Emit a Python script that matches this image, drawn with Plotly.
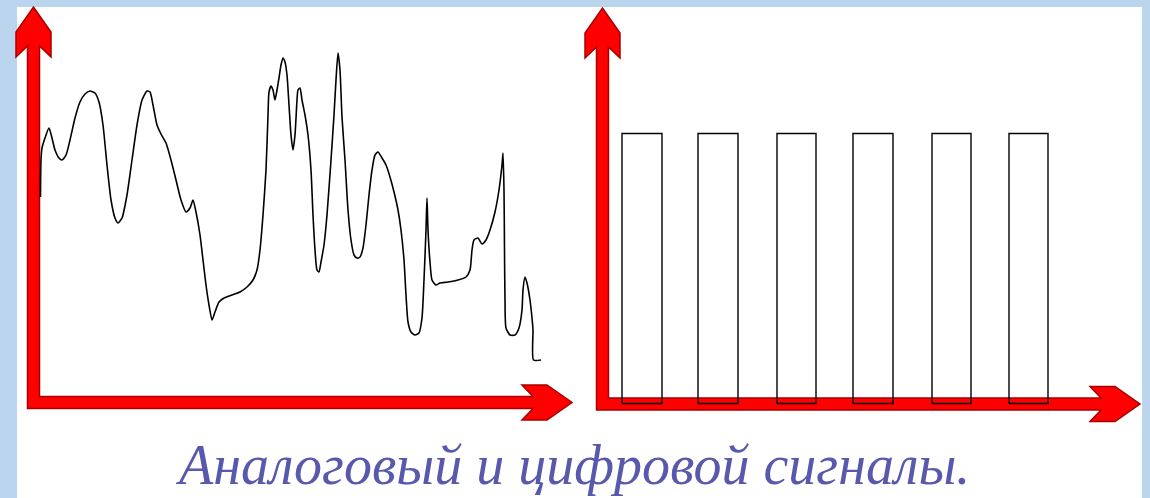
import plotly.graph_objects as go

# ---------------- data ----------------
# analog signal: time (arbitrary units) and amplitude
analog_t = [7.5, 8, 9, 12, 16, 19, 22, 26, 29, 33, 37, 42, 47, 52, 57, 62, 66, 70, 74, 78, 82, 85, 89, 94,
            99, 104, 109, 114, 117, 120, 124, 128, 133, 138, 143, 148, 153, 157, 160, 163, 167, 170, 173,
            176, 179, 182, 186, 191, 199, 207, 214, 220, 224, 227, 230, 233, 235, 236, 238, 240, 242, 244,
            246, 248, 250, 252, 254, 256, 258, 260, 262, 264, 265, 267, 269, 272, 275, 278, 280, 282, 284,
            286, 288, 291, 294, 298, 301, 303, 305, 307, 309, 312, 315, 318, 321, 324, 327, 330, 333, 336,
            339, 342, 345, 349, 353, 357, 361, 365, 368, 371, 373, 375, 378, 382, 386, 389, 391, 393, 394,
            395, 397, 399, 403, 407, 415, 425, 433, 437, 439, 441, 445, 449, 453, 457, 462, 466, 469, 470,
            471, 471.5, 472, 473, 477, 482, 486, 489, 490, 492, 494, 497, 499, 500, 500.5, 508]
analog_v = [205, 242, 254, 264, 274, 264, 252, 244, 242, 247, 262, 284, 300, 308, 311, 309, 300, 277, 237,
            202, 184, 179, 184, 207, 242, 277, 302, 311, 310, 297, 277, 268, 259, 242, 222, 202, 190, 194,
            202, 190, 167, 142, 117, 97, 82, 90, 100, 104, 107, 110, 115, 122, 132, 152, 187, 232, 287, 310,
            316, 312, 302, 312, 324, 337, 344, 340, 327, 297, 267, 252, 267, 302, 312, 314, 302, 287, 267,
            232, 187, 152, 132, 130, 140, 157, 187, 242, 287, 322, 349, 332, 285, 242, 192, 162, 147, 144,
            145, 154, 177, 207, 232, 247, 250, 244, 237, 225, 210, 192, 172, 142, 107, 80, 70, 67, 69, 84,
            122, 172, 204, 172, 140, 122, 117, 119, 120, 122, 125, 132, 152, 162, 164, 158, 162, 172, 190,
            212, 237, 249, 212, 152, 102, 74, 67, 67, 74, 92, 112, 125, 119, 102, 84, 72, 42, 42]

# digital signal: pulse start / end times and high level
pulse_start = [20, 96, 175, 251, 330, 407]
pulse_end = [60, 136, 214, 291, 369, 446]
pulse_level = [270, 270, 270, 270, 270, 270]

caption = "Аналоговый и цифровой сигналы."

# ---------------- figure ----------------
W, H = 1150, 498
BLUE = "#bcd5ee"
RED = "#ff0000"
DARKRED = "#a80000"

fig = go.Figure()

fig.add_trace(go.Scatter(
    x=analog_t, y=analog_v, mode="lines",
    line=dict(color="black", width=1.6, shape="spline", smoothing=0.6),
    xaxis="x", yaxis="y", hoverinfo="skip", showlegend=False))

dx, dy = [], []
for s, e, lv in zip(pulse_start, pulse_end, pulse_level):
    dx += [s, s, e, e, s, None]
    dy += [0, lv, lv, 0, 0, None]
fig.add_trace(go.Scatter(
    x=dx, y=dy, mode="lines",
    line=dict(color="black", width=1.4),
    xaxis="x2", yaxis="y2", hoverinfo="skip", showlegend=False))


def P(x, y):
    return x / W, 1 - y / H


def poly_path(pts):
    s = ""
    for i, (x, y) in enumerate(pts):
        px, py = P(x, y)
        s += ("M" if i == 0 else "L") + f"{px:.5f},{py:.5f} "
    return s + "Z"


def axes_arrow(cx, cy, xtip, ytip, hw=6, head_hw=17.5, taper=25, headlen=50, notch=11):
    # L-shaped red axes with block arrow heads (up and right)
    pts = [
        (cx - hw, cy + hw),
        (xtip - headlen + notch, cy + hw),
        (xtip - headlen, cy + head_hw),
        (xtip - taper, cy + head_hw),
        (xtip, cy),
        (xtip - taper, cy - head_hw),
        (xtip - headlen, cy - head_hw),
        (xtip - headlen + notch, cy - hw),
        (cx + hw, cy - hw),
        (cx + hw, ytip + headlen - notch),
        (cx + head_hw, ytip + headlen),
        (cx + head_hw, ytip + taper),
        (cx, ytip),
        (cx - head_hw, ytip + taper),
        (cx - head_hw, ytip + headlen),
        (cx - hw, ytip + headlen - notch),
    ]
    return poly_path(pts)


shapes = [
    dict(type="rect", xref="paper", yref="paper", x0=17 / W, x1=1142 / W, y0=0, y1=1 - 7 / H,
         fillcolor="white", line=dict(width=0), layer="below"),
    dict(type="path", xref="paper", yref="paper", path=axes_arrow(33.5, 402.5, 572, 7),
         fillcolor=RED, line=dict(color=DARKRED, width=1.5), layer="below"),
    dict(type="path", xref="paper", yref="paper", path=axes_arrow(602.5, 404, 1140, 8),
         fillcolor=RED, line=dict(color=DARKRED, width=1.5), layer="below"),
]

fig.update_layout(
    width=W, height=H,
    margin=dict(l=0, r=0, t=0, b=0),
    paper_bgcolor=BLUE, plot_bgcolor="rgba(0,0,0,0)",
    shapes=shapes,
    xaxis=dict(domain=[0, 0.5], range=[-33, 542], visible=False, fixedrange=True),
    yaxis=dict(domain=[0, 1], range=[402 - H, 402], visible=False, fixedrange=True),
    xaxis2=dict(domain=[0.5, 1], range=[-27, 548], visible=False, anchor="y2", fixedrange=True),
    yaxis2=dict(domain=[0, 1], range=[403.5 - H, 403.5], visible=False, anchor="x2", fixedrange=True),
    annotations=[dict(
        text=caption, xref="paper", yref="paper", x=572 / W, y=1 - 465 / H,
        xanchor="center", yanchor="middle", showarrow=False,
        font=dict(family="Liberation Serif", size=56, color="#5858ad", style="italic"),
    )],
)

fig.write_html(
    "out.html",
    config={"displayModeBar": False},
    post_script="document.body.style.margin='0';document.body.style.overflow='hidden';",
)
